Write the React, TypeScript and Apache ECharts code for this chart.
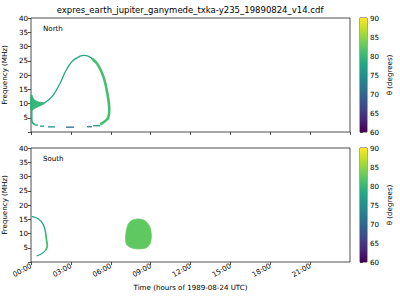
import React, { useEffect, useRef } from "react";
import * as echarts from "echarts";

const TITLE = "expres_earth_jupiter_ganymede_txka-y235_19890824_v14.cdf";
const X_NAME = "Time (hours of 1989-08-24 UTC)";
const Y_NAME = "Frequency (MHz)";
const CB_NAME = "θ (degrees)";
const PANEL_LABELS = ["North", "South"];

// time axis (hours) and frequency axis (MHz)
const xMin = 0, xMax = 24, xStep = 3;
const yMin = 0, yMax = 40, yStep = 5;
const thetaMin = 60, thetaMax = 90, thetaStep = 5;

// ---- North hemisphere emission ----
const northFanUpper: number[][] = [[0, 13], [0.15, 12], [0.3, 11.1], [0.6, 10.5], [1.0, 10.3]];
const northFanLower: number[][] = [[1.0, 9.9], [0.6, 9.0], [0.3, 8.3], [0, 7.6]];
const northFanTheta = 80;
const northArc: number[][] = [[1.0, 10.2], [1.4, 11.6], [1.7, 13.1], [2.2, 17.2], [2.6, 21.3], [3.1, 24.8], [3.7, 26.6], [4.0, 26.9], [4.5, 26.1], [5.0, 23.8]];
const northArcTheta = 78;
const northRight: number[][] = [[4.6, 25.7], [5.0, 23.8], [5.44, 19.5], [5.74, 13.7], [5.89, 7.9], [5.81, 5.0], [5.6, 3.9], [5.4, 3.2], [5.2, 2.7]];
const northRightTheta = 81;
const northLeft: number[][] = [[0.05, 13], [0.05, 4.2], [0.15, 3.1], [0.3, 2.6]];
const northLeftTheta = 79;
const northDashStart = [0.3, 0.68, 1.28, 2.63, 4.21, 4.67];
const northDashEnd = [0.53, 0.98, 1.81, 3.24, 4.59, 5.2];
const northDashFreq = [2.45, 2.05, 1.8, 1.7, 1.85, 2.2];
const northDashTheta = [77, 76, 75, 70.5, 73, 76];

// ---- South hemisphere emission ----
const southTop: number[][] = [[0.05, 16], [0.55, 15.2], [0.93, 13.1], [1.1, 10.2]];
const southTopTheta = 77;
const southRight: number[][] = [[1.1, 10.2], [1.18, 7.3], [1.23, 5.8], [1.1, 4.1]];
const southRightTheta = 81;
const southBottom: number[][] = [[1.1, 4.1], [0.8, 2.9], [0.43, 2.1]];
const southBottomTheta = 77;
const southBlob: number[][] = [[7.55, 14.5], [8.05, 15.1], [8.57, 14.5], [8.93, 12.5], [9.05, 9.6], [8.98, 6.7], [8.68, 5.0], [8.05, 4.6], [7.55, 5.0], [7.18, 6.2], [7.13, 9.6], [7.3, 13.1]];
const southBlobTheta = 82.5;

const VIRIDIS = ["#440154", "#482475", "#414487", "#355f8d", "#2a788e", "#21918c", "#22a884", "#44bf70", "#7ad151", "#bddf26", "#fde725"];

function hexToRgb(h: string) {
  const n = parseInt(h.slice(1), 16);
  return [(n >> 16) & 255, (n >> 8) & 255, n & 255];
}
function viridis(theta: number) {
  let t = (theta - thetaMin) / (thetaMax - thetaMin);
  t = Math.max(0, Math.min(1, t));
  const p = t * (VIRIDIS.length - 1);
  const i = Math.min(VIRIDIS.length - 2, Math.floor(p));
  const f = p - i;
  const a = hexToRgb(VIRIDIS[i]);
  const b = hexToRgb(VIRIDIS[i + 1]);
  const c = a.map((v, k) => Math.round(v + (b[k] - v) * f));
  return `rgb(${c[0]},${c[1]},${c[2]})`;
}

const FONT = "DejaVu Sans";
const TXT = "#000";
const FS = 7.1;

function pad(n: number) {
  return (n < 10 ? "0" : "") + n;
}

export default function App() {
  const ref = useRef<HTMLDivElement>(null);
  useEffect(() => {
    if (!ref.current) return;
    const chart = echarts.init(ref.current, undefined, { renderer: "svg" });

    const grids = [
      { left: 31, top: 18, width: 319, height: 114 },
      { left: 31, top: 148, width: 319, height: 114 },
      { left: 360, top: 18, width: 7, height: 114 },
      { left: 360, top: 148, width: 7, height: 114 },
    ].map((g) => ({
      ...g,
      show: true,
      borderColor: "#222",
      borderWidth: 0.8,
      backgroundColor: "transparent",
      containLabel: false,
      outerBoundsMode: "none",
    }));

    const mainX = (i: number, labels: boolean) => ({
      type: "value",
      gridIndex: i,
      min: xMin,
      max: xMax,
      interval: xStep,
      axisLine: { show: false },
      axisTick: { show: true, length: 3, lineStyle: { color: "#222", width: 0.8 } },
      splitLine: { show: false },
      axisLabel: {
        show: labels,
        rotate: 30,
        fontSize: FS,
        fontFamily: FONT,
        color: TXT,
        margin: 3,
        showMaxLabel: false,
        formatter: (v: number) => pad(v) + ":00",
      },
      name: labels ? X_NAME : "",
      nameLocation: "middle",
      nameGap: 22,
      nameTextStyle: { fontSize: FS, fontFamily: FONT, color: TXT },
    });
    const mainY = (i: number) => ({
      type: "value",
      gridIndex: i,
      min: yMin,
      max: yMax,
      interval: yStep,
      axisLine: { show: false },
      axisTick: { show: true, length: 3, lineStyle: { color: "#222", width: 0.8 } },
      splitLine: { show: false },
      axisLabel: {
        fontSize: FS,
        fontFamily: FONT,
        color: TXT,
        margin: 3,
        formatter: (v: number) => (v === 0 ? "" : String(v)),
      },
      name: Y_NAME,
      nameLocation: "middle",
      nameGap: 17,
      nameTextStyle: { fontSize: FS, fontFamily: FONT, color: TXT },
    });
    const cbX = (i: number) => ({
      type: "value",
      gridIndex: i,
      min: 0,
      max: 1,
      show: false,
    });
    const cbY = (i: number) => ({
      type: "value",
      gridIndex: i,
      position: "right",
      min: thetaMin,
      max: thetaMax,
      interval: thetaStep,
      axisLine: { show: false },
      axisTick: { show: true, length: 3, lineStyle: { color: "#222", width: 0.8 } },
      splitLine: { show: false },
      axisLabel: { fontSize: FS, fontFamily: FONT, color: TXT, margin: 3 },
      name: CB_NAME,
      nameLocation: "middle",
      nameRotate: 90,
      nameGap: 19,
      nameTextStyle: { fontSize: FS, fontFamily: FONT, color: TXT },
    });

    const lineS = (idx: number, pts: number[][], theta: number, width: number) => ({
      type: "line",
      xAxisIndex: idx,
      yAxisIndex: idx,
      data: pts,
      showSymbol: false,
      symbol: "none",
      smooth: 0.3,
      lineStyle: { color: viridis(theta), width },
      z: 3,
    });
    const polyS = (idx: number, pts: number[][], theta: number) => ({
      type: "custom",
      xAxisIndex: idx,
      yAxisIndex: idx,
      data: [pts[0]],
      z: 2,
      renderItem: (_p: any, api: any) => ({
        type: "polygon",
        shape: { points: pts.map((p) => api.coord(p)), smooth: 0.3 },
        style: { fill: viridis(theta), stroke: viridis(theta), lineWidth: 0.8 },
      }),
    });
    const dashS = {
      type: "custom",
      xAxisIndex: 0,
      yAxisIndex: 0,
      data: northDashStart.map((t0, i) => [t0, northDashFreq[i], northDashEnd[i], northDashTheta[i]]),
      renderItem: (_p: any, api: any) => {
        const a = api.coord([api.value(0), api.value(1)]);
        const b = api.coord([api.value(2), api.value(1)]);
        return {
          type: "line",
          shape: { x1: a[0], y1: a[1], x2: b[0], y2: b[1] },
          style: { stroke: viridis(api.value(3)), lineWidth: 1.3 },
        };
      },
    };
    const stops = VIRIDIS.map((c, i) => ({ offset: i / (VIRIDIS.length - 1), color: c }));
    const cbS = (idx: number) => ({
      type: "custom",
      xAxisIndex: idx,
      yAxisIndex: idx,
      data: [[0, thetaMin]],
      renderItem: (_p: any, api: any) => {
        const a = api.coord([0, thetaMax]);
        const b = api.coord([1, thetaMin]);
        return {
          type: "rect",
          shape: { x: a[0], y: a[1], width: b[0] - a[0], height: b[1] - a[1] },
          style: { fill: new echarts.graphic.LinearGradient(0, 1, 0, 0, stops) },
        };
      },
    });

    const small = { fontSize: FS, fontWeight: "normal", fontFamily: FONT, color: TXT };
    chart.setOption({
      animation: false,
      backgroundColor: "#fff",
      title: [
        { text: TITLE, left: 190, top: 5, padding: 0, textAlign: "center", textStyle: { ...small, fontSize: 8.5 } },
        { text: PANEL_LABELS[0], left: 43, top: 25, padding: 0, textStyle: small },
        { text: PANEL_LABELS[1], left: 43, top: 155, padding: 0, textStyle: small },
      ],
      grid: grids,
      xAxis: [mainX(0, false), mainX(1, true), cbX(2), cbX(3)],
      yAxis: [mainY(0), mainY(1), cbY(2), cbY(3)],
      series: [
        polyS(0, [...northFanUpper, ...northFanLower], northFanTheta),
        lineS(0, northArc, northArcTheta, 1.3),
        lineS(0, northRight, northRightTheta, 2.6),
        lineS(0, northLeft, northLeftTheta, 1.8),
        dashS,
        lineS(1, southTop, southTopTheta, 1.3),
        lineS(1, southRight, southRightTheta, 1.8),
        lineS(1, southBottom, southBottomTheta, 1.2),
        polyS(1, southBlob, southBlobTheta),
        cbS(2),
        cbS(3),
      ],
    });
    return () => chart.dispose();
  }, []);
  return <div ref={ref} style={{ width: 400, height: 300, position: "absolute", left: 0, top: 0 }} />;
}
